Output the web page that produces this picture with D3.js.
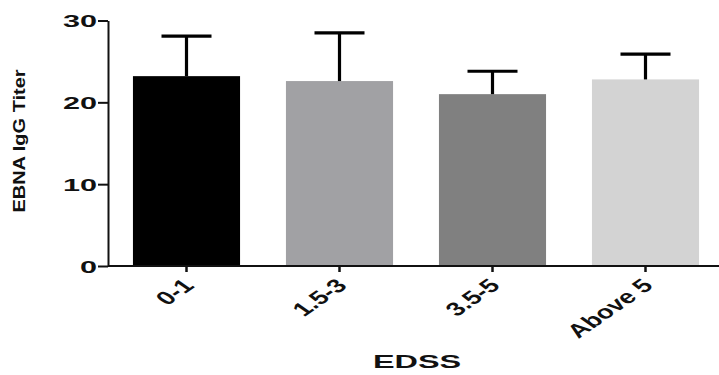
<!DOCTYPE html>
<html>
<head>
<meta charset="utf-8">
<script src="https://cdn.jsdelivr.net/npm/d3@7"></script>
<style>
  html, body { margin: 0; padding: 0; background: #fff; }
  svg { display: block; }
  text { font-family: "Liberation Sans", Arial, sans-serif; fill: #111; }
</style>
</head>
<body>
<svg id="chart" width="719" height="375"></svg>
<script>
const categories = ["0-1", "1.5-3", "3.5-5", "Above 5"];
const means = [23.2, 22.6, 21.0, 22.8];
const sds = [4.9, 5.9, 2.8, 3.1];
const colors = ["#000000", "#a1a1a4", "#808080", "#d3d3d3"];
const yTicks = [0, 10, 20, 30];
const yTitle = "EBNA IgG Titer";
const xTitle = "EDSS";

const svg = d3.select("#chart");
const axisX = 108, axisRight = 719;
const y = d3.scaleLinear().domain([0, 30]).range([266, 20.5]);
const x = d3.scaleBand().domain(categories).range([110, 722]).paddingInner(0.3).paddingOuter(0.15);

// bars
svg.selectAll("rect.bar").data(categories).enter().append("rect")
  .attr("class", "bar")
  .attr("x", d => x(d))
  .attr("width", x.bandwidth())
  .attr("y", (d, i) => y(means[i]))
  .attr("height", (d, i) => y(0) - y(means[i]))
  .attr("fill", (d, i) => colors[i]);

// error bars (upper only)
const eb = svg.selectAll("g.eb").data(categories).enter().append("g").attr("class", "eb");
eb.append("line")
  .attr("x1", d => x(d) + x.bandwidth() / 2)
  .attr("x2", d => x(d) + x.bandwidth() / 2)
  .attr("y1", (d, i) => y(means[i]))
  .attr("y2", (d, i) => y(means[i] + sds[i]))
  .attr("stroke", "#000").attr("stroke-width", 3.2);
eb.append("line")
  .attr("x1", d => x(d) + x.bandwidth() / 2 - 25)
  .attr("x2", d => x(d) + x.bandwidth() / 2 + 25)
  .attr("y1", (d, i) => y(means[i] + sds[i]))
  .attr("y2", (d, i) => y(means[i] + sds[i]))
  .attr("stroke", "#000").attr("stroke-width", 3.2);

// y axis
const yAxis = d3.axisLeft(y).tickValues(yTicks).tickSize(10).tickSizeOuter(0).tickFormat(d3.format("d"));
const gy = svg.append("g").attr("transform", `translate(${axisX},0)`).call(yAxis);
gy.select(".domain").attr("stroke", "#111").attr("stroke-width", 2);
gy.selectAll(".tick line").attr("stroke", "#111").attr("stroke-width", 2);
gy.selectAll(".tick text")
  .attr("x", null).attr("dy", "0.36em")
  .attr("transform", "translate(-11,0) scale(1.8,1)")
  .attr("text-anchor", "end")
  .style("font-size", "17px").style("font-weight", "bold");

// x axis
const xAxis = d3.axisBottom(x).tickSize(6).tickSizeOuter(0);
const gx = svg.append("g").attr("transform", `translate(0,${y(0)})`).call(xAxis);
gx.select(".domain").remove();
gx.append("line").attr("x1", axisX).attr("x2", axisRight).attr("y1", 0).attr("y2", 0)
  .attr("stroke", "#111").attr("stroke-width", 2);
gx.selectAll(".tick line").attr("stroke", "#111").attr("stroke-width", 2.5);
gx.selectAll(".tick text")
  .attr("y", null).attr("dy", "0.35em")
  .attr("transform", "translate(2,16) scale(1.45,1) rotate(-45)")
  .attr("text-anchor", "end")
  .style("font-size", "19px").style("font-weight", "bold");

// titles
svg.append("text")
  .attr("transform", "translate(25,141) scale(0.85,1) rotate(-90)")
  .attr("text-anchor", "middle")
  .style("font-size", "20px").style("font-weight", "bold")
  .text(yTitle);
svg.append("text")
  .attr("transform", "translate(417,368) scale(1.8,1)")
  .attr("text-anchor", "middle")
  .style("font-size", "18px").style("font-weight", "bold")
  .text(xTitle);
</script>
</body>
</html>
